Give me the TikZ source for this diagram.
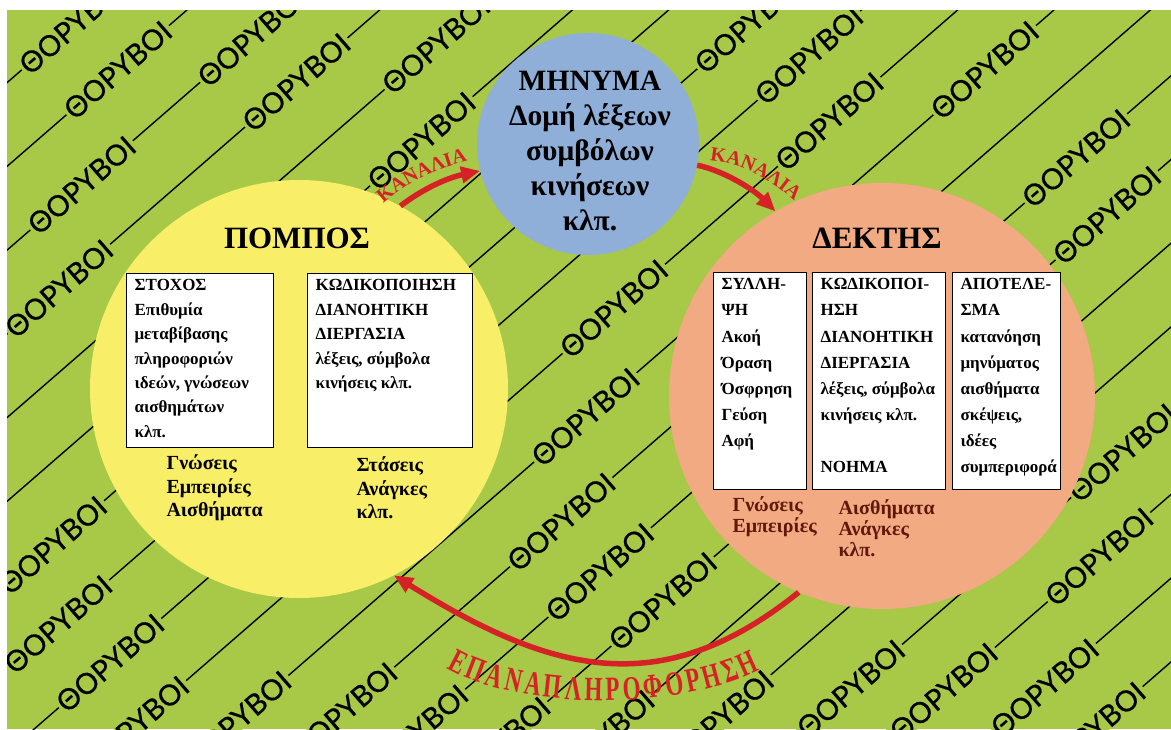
\documentclass[tikz,border=0pt]{standalone}
\usepackage{fontspec}
\setmainfont{Liberation Serif}
\newfontfamily\noisefont[FakeBold=0.6]{Lato}
\newfontfamily\chanfont{Liberation Serif Bold}
\newfontfamily\condserif[FakeStretch=0.68]{Liberation Serif Bold}
\usetikzlibrary{arrows.meta,decorations.text}

\definecolor{bggreen}{RGB}{168,200,72}
\definecolor{pomposyellow}{RGB}{249,238,104}
\definecolor{minimablue}{RGB}{143,175,216}
\definecolor{dektissalmon}{RGB}{242,170,130}
\definecolor{chanred}{RGB}{214,34,38}
\definecolor{lblbrown}{RGB}{95,25,10}

\begin{document}
\begin{tikzpicture}[x=1pt, y=-1pt,
  noiseline/.style={line width=1.4pt, black},
  noise/.style={font=\noisefont\fontsize{29}{29}\selectfont, fill=bggreen, inner xsep=2pt, inner ysep=0pt},
  disc/.style={circle, inner sep=0pt, draw=none},
  box/.style={draw, fill=white, line width=1.2pt, anchor=north west, inner xsep=8pt, inner ysep=6pt, font=\fontsize{17}{24.4}\selectfont\bfseries},
  title/.style={font=\fontsize{31}{31}\selectfont\bfseries},
  lbl/.style={anchor=west, align=left, font=\fontsize{20}{23.5}\selectfont\bfseries},
  channel/.style={-{Triangle[length=19pt,width=16pt]}, line width=5.5pt, chanred}
]
  \useasboundingbox (0,0) rectangle (1171,729);
  \fill[white] (0,0) rectangle (1171,729);

  % --- FONDO: RUIDOS ---
  \fill[bggreen] (7,10) rectangle (1171,729);
  \begin{scope}
    \clip (7,10) rectangle (1171,729);
    \begin{scope}[rotate=41, transform shape]
      \foreach \k/\us in {0/{38.5}, 1/{42.8}, 2/{-60,165}, 3/{-145,169.5}, 4/{299.5},
          5/{225.4}, 6/{-318}, 7/{-366,549}, 8/{-352,574}, 9/{-374,260.6,546},
          10/{-293.5,168,697}, 11/{-208,81}, 12/{-169,77,708}, 13/{-115,105.5,694},
          14/{-32}, 15/{71}, 16/{190,550}, 17/{258,464}, 18/{337}, 19/{344}} {
        \draw[noiseline] (-1600, 67+63.2*\k) -- (1600, 67+63.2*\k);
        \foreach \u [count=\i] in \us
          \node[noise] (ruido-\k-\i) at (\u, 67+63.2*\k) {ΘΟΡΥΒΟΙ};
      }
    \end{scope}
  \end{scope}

  % --- CIRCULOS ---
  \node[disc, fill=pomposyellow, minimum size=418pt] (pompos) at (299,389) {};
  \node[disc, fill=minimablue, minimum size=222pt] (minima) at (588,144) {};
  \node[disc, fill=dektissalmon, minimum size=426pt] (dektis) at (882,396) {};

  % Mensaje
  \node[font=\fontsize{29.5}{35}\selectfont\bfseries, align=center] (minimatxt) at (590,151)
    {ΜΗΝΥΜΑ\\Δομή λέξεων\\συμβόλων\\κινήσεων\\κλπ.};

  % --- EMISOR ---
  \node[title] (pompostitle) at (297,238) {ΠΟΜΠΟΣ};
  \node[box] (stoxos) at (126,273) {\parbox[c][162pt][t]{131pt}{\raggedright
    ΣΤΟΧΟΣ\\Επιθυμία\\μεταβίβασης\\πληροφοριών\\ιδεών, γνώσεων\\αισθημάτων\\κλπ.}};
  \node[box] (pkodik) at (307,273) {\parbox[c][162pt][t]{149pt}{\raggedright
    ΚΩΔΙΚΟΠΟΙΗΣΗ\\ΔΙΑΝΟΗΤΙΚΗ\\ΔΙΕΡΓΑΣΙΑ\\λέξεις, σύμβολα\\κινήσεις κλπ.}};
  \node[lbl] (pgnoseis) at (163,488) {Γνώσεις\\Εμπειρίες\\Αισθήματα};
  \node[lbl] (pstaseis) at (353,488) {Στάσεις\\Ανάγκες\\κλπ.};

  % --- RECEPTOR ---
  \node[title] (dektistitle) at (877,238) {ΔΕΚΤΗΣ};
  \node[box, font=\fontsize{17}{26.1}\selectfont\bfseries] (syllipsi) at (713,272) {\parbox[c][205pt][t]{77pt}{\raggedright
    ΣΥΛΛΗ-\\ΨΗ\\Ακοή\\Όραση\\Όσφρηση\\Γεύση\\Αφή}};
  \node[box, font=\fontsize{17}{26.1}\selectfont\bfseries] (dkodik) at (812,272) {\parbox[c][205pt][t]{117pt}{\raggedright
    ΚΩΔΙΚΟΠΟΙ-\\ΗΣΗ\\ΔΙΑΝΟΗΤΙΚΗ\\ΔΙΕΡΓΑΣΙΑ\\λέξεις, σύμβολα\\κινήσεις κλπ.\\[26.1pt]ΝΟΗΜΑ}};
  \node[box, font=\fontsize{17}{26.1}\selectfont\bfseries] (apotelesma) at (952,272) {\parbox[c][205pt][t]{92pt}{\raggedright
    ΑΠΟΤΕΛΕ-\\ΣΜΑ\\κατανόηση\\μηνύματος\\αισθήματα\\σκέψεις,\\ιδέες\\συμπεριφορά}};
  \node[lbl, text=lblbrown, font=\fontsize{20}{21}\selectfont\bfseries] (dgnoseis) at (729,517) {Γνώσεις\\Εμπειρίες};
  \node[lbl, text=lblbrown, font=\fontsize{20}{21}\selectfont\bfseries] (daisth) at (835,528) {Αισθήματα\\Ανάγκες\\κλπ.};

  % --- CANALES Y RETROALIMENTACION ---
  \draw[channel] (pompos.61) .. controls +(22,-17) and +(-33,7) .. (minima.194);
  \draw[channel] (minima.-11) .. controls +(25,5) and +(-23,-23) .. (dektis.120);
  \draw[channel] (dektis.247) .. controls +(-140,113) and +(153,95) .. (pompos.-63);

  \path[decorate, decoration={text along path, text align=center,
      text={|\chanfont\fontsize{20}{20}\selectfont\color{chanred}|ΚΑΝΑΛΙΑ}}]
    (383,204) .. controls (405,185) and (430,170) .. (468,161);
  \path[decorate, decoration={text along path, text align=center,
      text={|\chanfont\fontsize{20}{20}\selectfont\color{chanred}|ΚΑΝΑΛΙΑ}}]
    (709,161) .. controls (738,162) and (770,178) .. (795,202);
  \path[decorate, decoration={text along path, text align={fit to path},
      text={|\condserif\fontsize{34}{34}\selectfont\color{chanred}|ΕΠΑΝΑΠΛΗΡΟΦΟΡΗΣΗ}}]
    (447,668) .. controls (520,711) and (680,711) .. (760,670);

\end{tikzpicture}
\end{document}
